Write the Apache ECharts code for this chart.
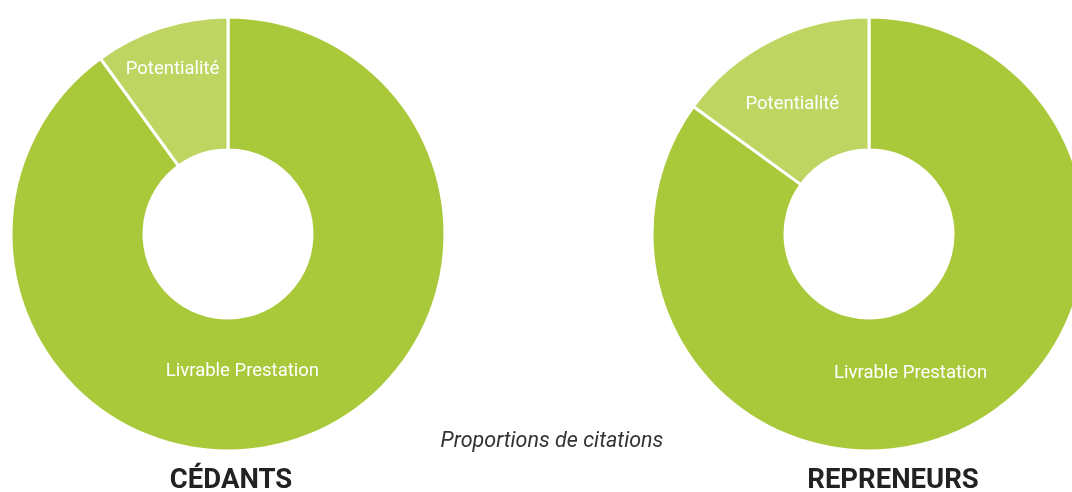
<!DOCTYPE html>
<html>
<head>
<meta charset="utf-8">
<script src="https://cdn.jsdelivr.net/npm/echarts@6/dist/echarts.min.js"></script>
<style>
  html, body { margin: 0; padding: 0; background: #fff; }
  #main { width: 1072px; height: 492px; }
</style>
</head>
<body>
<div id="main"></div>
<script>
// categories and values (percent of citations)
const categories = ['Livrable Prestation', 'Potentialité'];
const cedantsValues = [90, 10];
const repreneursValues = [85, 15];
const groupNames = ['CÉDANTS', 'REPRENEURS'];
const subtitle = 'Proportions de citations';

const colors = ['#aac93a', '#bed562'];

// small nudges so labels sit where the original put them
const labelShift = {
  cedants: [[-33, -9], [-8, -19]],
  repreneurs: [[-28, 3], [-7, 7]]
};

function buildData(values, shifts) {
  return categories.map((name, i) => ({
    name: name,
    value: values[i],
    itemStyle: { color: colors[i] },
    label: { offset: shifts[i] }
  }));
}

function donut(center, values, shifts) {
  return {
    type: 'pie',
    center: center,
    radius: [84, 217],
    startAngle: 90,
    clockwise: true,
    silent: true,
    avoidLabelOverlap: false,
    itemStyle: { borderColor: '#fff', borderWidth: 3 },
    label: {
      show: true,
      position: 'inside',
      color: '#fff',
      fontSize: 18.5,
      fontFamily: 'Roboto',
      formatter: '{b}'
    },
    labelLine: { show: false },
    data: buildData(values, shifts)
  };
}

const chart = echarts.init(document.getElementById('main'));
chart.setOption({
  animation: false,
  title: [
    {
      text: subtitle, left: 547, top: 426, textAlign: 'center',
      textStyle: { fontFamily: 'Roboto', fontStyle: 'italic', fontWeight: 'normal', fontSize: 21.5, color: '#333' }
    },
    {
      text: groupNames[0], left: 226, top: 462, textAlign: 'center',
      textStyle: { fontFamily: 'Roboto', fontWeight: 'bold', fontSize: 27.5, color: '#222' }
    },
    {
      text: groupNames[1], left: 888, top: 462, textAlign: 'center',
      textStyle: { fontFamily: 'Roboto', fontWeight: 'bold', fontSize: 27.5, color: '#222' }
    }
  ],
  series: [
    donut([228, 234], cedantsValues, labelShift.cedants),
    donut([869, 234], repreneursValues, labelShift.repreneurs)
  ]
});
</script>
</body>
</html>
